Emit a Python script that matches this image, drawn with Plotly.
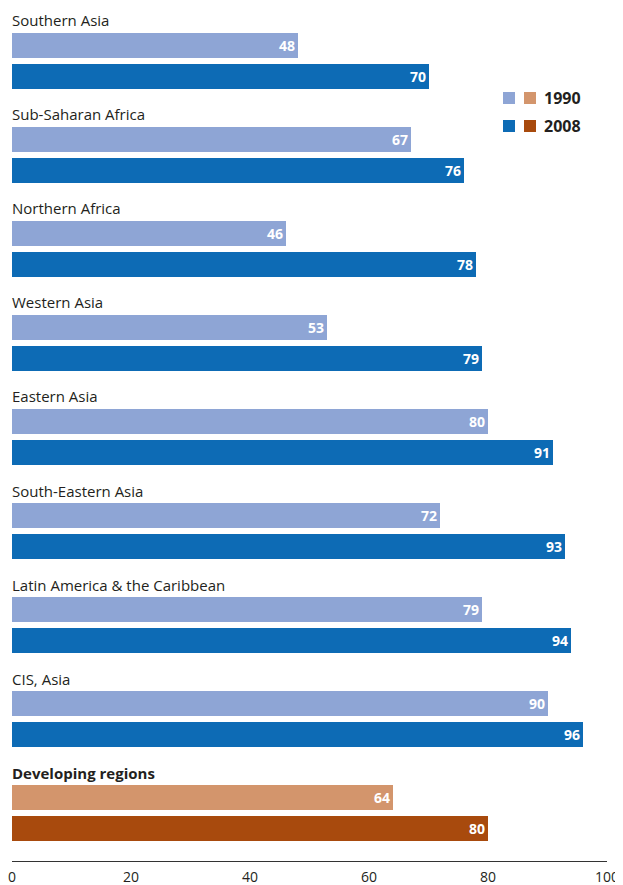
import plotly.graph_objects as go

regions = ["Southern Asia", "Sub-Saharan Africa", "Northern Africa", "Western Asia",
           "Eastern Asia", "South-Eastern Asia", "Latin America & the Caribbean",
           "CIS, Asia", "Developing regions"]
v1990 = [48, 67, 46, 53, 80, 72, 79, 90, 64]
v2008 = [70, 76, 78, 79, 91, 93, 94, 96, 80]
years = ["1990", "2008"]

LIGHT_BLUE = "#8ea5d5"
DARK_BLUE = "#0d6bb5"
LIGHT_ORANGE = "#d3956c"
DARK_ORANGE = "#a84a0d"

# page body has an 8px margin: figure drawn offset by (8, 8)
OFF = 8
W, H = 623 - OFF, 885 - OFF
PLOT_LEFT, PLOT_RIGHT = 12, 607          # page pixels
AXIS_Y = 861                             # page pixel of x axis line
L = PLOT_LEFT - OFF
R = (623 - PLOT_RIGHT)
B = 885 - AXIS_Y
PITCH = 94.1
LABEL_OFF, B1_OFF, B2_OFF = 20, 45, 76
BAR_H = 25

n = len(regions)
y1 = [B1_OFF + PITCH * i for i in range(n)]
y2 = [B2_OFF + PITCH * i for i in range(n)]
ylab = [LABEL_OFF + PITCH * i for i in range(n)]
c1 = [LIGHT_BLUE] * (n - 1) + [LIGHT_ORANGE]
c2 = [DARK_BLUE] * (n - 1) + [DARK_ORANGE]

FONT = "Open Sans"
fig = go.Figure()
for vals, ys, cols, name in [(v1990, y1, c1, years[0]), (v2008, y2, c2, years[1])]:
    fig.add_trace(go.Bar(
        x=vals, y=ys, orientation="h", width=BAR_H, name=name,
        marker=dict(color=cols, line=dict(width=0)),
        text=[str(v) for v in vals], textposition="inside", insidetextanchor="end",
        textfont=dict(color="white", size=14, family=FONT, weight="bold"),
        textangle=0, cliponaxis=False, hoverinfo="skip",
    ))

for i, r in enumerate(regions):
    last = i == n - 1
    fig.add_annotation(
        x=0, y=ylab[i], xref="x", yref="y", text=("<b>%s</b>" % r) if last else r,
        xanchor="left", yanchor="middle", showarrow=False,
        font=dict(size=15, color="#231f20", family=FONT), xshift=-2,
    )

# custom legend (page pixels -> data units)
def px_to_x(px):
    return (px - PLOT_LEFT) / (PLOT_RIGHT - PLOT_LEFT) * 100

leg = [(years[0], LIGHT_BLUE, LIGHT_ORANGE, 98), (years[1], DARK_BLUE, DARK_ORANGE, 126)]
for label, ca, cb, yc in leg:
    for x0, col in [(503, ca), (524, cb)]:
        fig.add_shape(type="rect", xref="x", yref="y",
                      x0=px_to_x(x0), x1=px_to_x(x0 + 12), y0=yc - 6, y1=yc + 6,
                      fillcolor=col, line=dict(width=0))
    fig.add_annotation(x=px_to_x(542), y=yc, xref="x", yref="y", text="<b>%s</b>" % label,
                       xanchor="left", yanchor="middle", showarrow=False,
                       font=dict(size=16, color="#231f20", family=FONT))

fig.update_layout(
    width=W, height=H, margin=dict(l=L, r=R, t=0, b=B, pad=0),
    paper_bgcolor="white", plot_bgcolor="white", showlegend=False, barmode="overlay",
    bargap=0,
    xaxis=dict(range=[0, 100], tickvals=[0, 20, 40, 60, 80, 100], showgrid=False,
               zeroline=False, showline=True, linecolor="#333333", linewidth=1,
               ticks="", ticklabelstandoff=3, automargin=False,
               ticklabeloverflow="allow",
               tickfont=dict(size=14, color="#231f20", family=FONT)),
    yaxis=dict(range=[AXIS_Y, OFF], visible=False, showgrid=False, zeroline=False,
               automargin=False),
)
fig.write_html("out.html")
